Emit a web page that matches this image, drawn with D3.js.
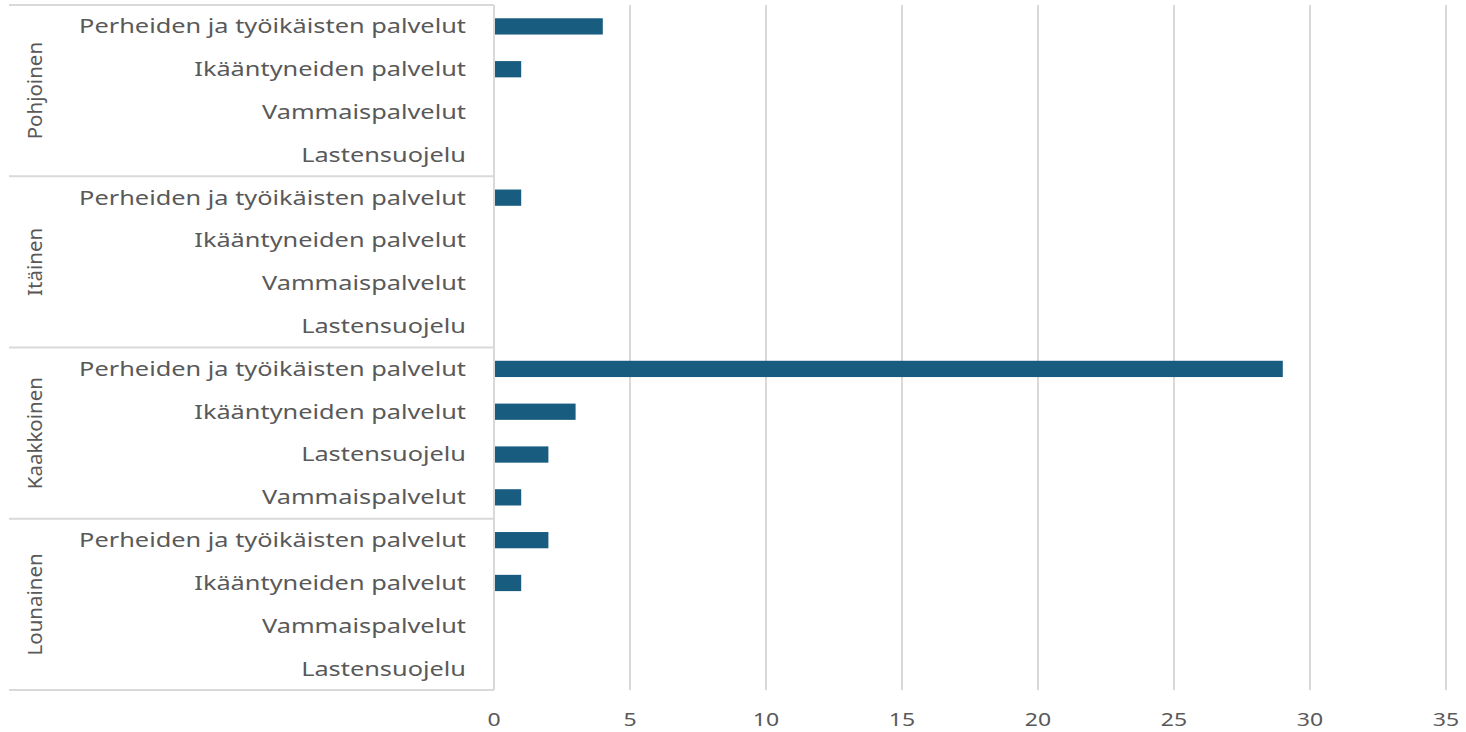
<!DOCTYPE html>
<html>
<head>
<meta charset="utf-8">
<script src="https://cdn.jsdelivr.net/npm/d3@7"></script>
<style>
  body { margin: 0; background: #fff; }
  text { font-family: "Noto Sans", sans-serif; fill: #595959; }
</style>
</head>
<body>
<svg id="chart" width="1466" height="732"></svg>
<script>
// regions (groups) top to bottom
const regions = ["Pohjoinen", "Itäinen", "Kaakkoinen", "Lounainen"];
// services inside each region, in the order shown
const services = [
  ["Perheiden ja työikäisten palvelut", "Ikääntyneiden palvelut", "Vammaispalvelut", "Lastensuojelu"],
  ["Perheiden ja työikäisten palvelut", "Ikääntyneiden palvelut", "Vammaispalvelut", "Lastensuojelu"],
  ["Perheiden ja työikäisten palvelut", "Ikääntyneiden palvelut", "Lastensuojelu", "Vammaispalvelut"],
  ["Perheiden ja työikäisten palvelut", "Ikääntyneiden palvelut", "Vammaispalvelut", "Lastensuojelu"]
];
const values = [
  [4, 1, 0, 0],
  [1, 0, 0, 0],
  [29, 3, 2, 1],
  [2, 1, 0, 0]
];
const xTicks = [0, 5, 10, 15, 20, 25, 30, 35];

const rows = [];
regions.forEach((r, gi) => {
  services[gi].forEach((s, si) => {
    rows.push({ id: gi + "-" + si, region: r, service: s, value: values[gi][si] });
  });
});

const svg = d3.select("#chart");
const plotLeft = 494, plotRight = 1446, plotTop = 5, plotBottom = 690;
const stretch = 1.28; // the source picture is wide, text looks stretched sideways

const x = d3.scaleLinear().domain([0, 35]).range([plotLeft, plotRight]);
const y = d3.scaleBand().domain(rows.map(d => d.id)).range([plotTop, plotBottom]).paddingInner(0.62).paddingOuter(0.31);
const step = y.step();

// gridlines
svg.append("g")
  .selectAll("line")
  .data(xTicks.slice(1))
  .enter()
  .append("line")
  .attr("x1", d => x(d)).attr("x2", d => x(d))
  .attr("y1", plotTop).attr("y2", plotBottom)
  .attr("stroke", "#d9d9d9")
  .attr("stroke-width", 2);

// x tick labels
svg.append("g")
  .selectAll("text")
  .data(xTicks)
  .enter()
  .append("text")
  .attr("transform", d => `translate(${x(d)},726) scale(${stretch},1)`)
  .attr("text-anchor", "middle")
  .style("font-size", "18px")
  .text(d => d);

// bars
svg.append("g")
  .selectAll("rect")
  .data(rows.filter(d => d.value > 0))
  .enter()
  .append("rect")
  .attr("x", x(0))
  .attr("y", d => y(d.id))
  .attr("width", d => x(d.value) - x(0))
  .attr("height", y.bandwidth())
  .attr("fill", "#185d80");

// category labels
svg.append("g")
  .selectAll("text")
  .data(rows)
  .enter()
  .append("text")
  .attr("transform", d => `translate(466,${y(d.id) + y.bandwidth() / 2}) scale(${stretch},1)`)
  .attr("dy", "0.35em")
  .attr("text-anchor", "end")
  .style("font-size", "19.8px")
  .text(d => d.service);

// group separators
const groupEdges = [0];
services.forEach((s, i) => groupEdges.push(groupEdges[i] + s.length));
svg.append("g")
  .selectAll("line")
  .data(groupEdges)
  .enter()
  .append("line")
  .attr("x1", 9).attr("x2", plotLeft)
  .attr("y1", d => plotTop + d * step).attr("y2", d => plotTop + d * step)
  .attr("stroke", "#d9d9d9")
  .attr("stroke-width", 2);

// category axis line
svg.append("line")
  .attr("x1", plotLeft).attr("x2", plotLeft)
  .attr("y1", plotTop).attr("y2", plotBottom)
  .attr("stroke", "#d9d9d9")
  .attr("stroke-width", 2);

// region labels
svg.append("g")
  .selectAll("text")
  .data(regions)
  .enter()
  .append("text")
  .attr("transform", (d, i) => {
    const cy = plotTop + (groupEdges[i] + groupEdges[i + 1]) / 2 * step;
    return `translate(35,${cy}) rotate(-90)`;
  })
  .attr("text-anchor", "middle")
  .attr("dy", "0.35em")
  .style("font-size", "20.5px")
  .text(d => d);
</script>
</body>
</html>
